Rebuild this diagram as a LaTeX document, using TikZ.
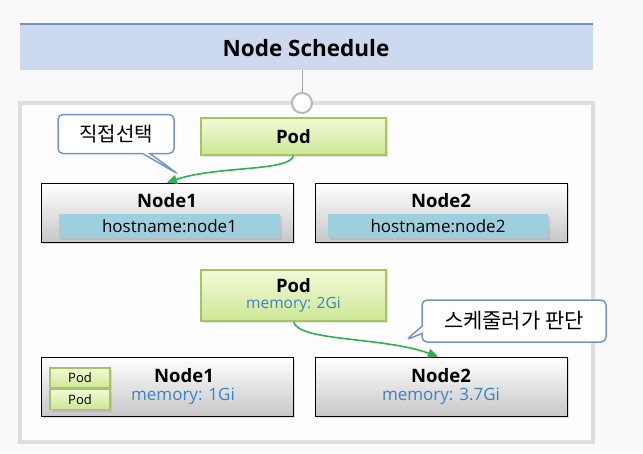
\documentclass[tikz,border=0pt]{standalone}
\usepackage{fontspec}
\setmainfont{Open Sans}
\newfontfamily\kr{Noto Sans CJK KR}
\usepackage{tikz}
\usepackage{xcolor}
\usetikzlibrary{arrows.meta,shapes.callouts,shadows}

\definecolor{pagebg}{HTML}{F9F9F9}
\definecolor{bandblue}{HTML}{CDD9EE}
\definecolor{bandline}{HTML}{7090C8}
\definecolor{framegray}{HTML}{DEDEDE}
\definecolor{podgreen}{HTML}{A5C463}
\definecolor{podtop}{HTML}{F3FAD8}
\definecolor{podbot}{HTML}{CCE795}
\definecolor{hostblue}{HTML}{9DCFDE}
\definecolor{memblue}{HTML}{3B82C8}
\definecolor{flowgreen}{HTML}{2EB34C}
\definecolor{callblue}{HTML}{7396D2}

\tikzset{
  nodebox/.style={draw=black,line width=0.8pt,top color=white,bottom color=black!22,
    minimum width=252pt,minimum height=59pt,
    drop shadow={opacity=0.25,shadow xshift=2pt,shadow yshift=-2pt}},
  podbox/.style={draw=podgreen,line width=1.5pt,top color=podtop,bottom color=podbot,
    minimum width=185pt,drop shadow={opacity=0.2,shadow xshift=2pt,shadow yshift=-2pt}},
  minipod/.style={podbox,minimum width=60pt,minimum height=20pt,inner sep=0pt,font=\fontsize{13}{13}\selectfont},
  hostbar/.style={fill=hostblue,minimum height=24pt,inner sep=0pt,font=\fontsize{17}{17}\selectfont,
    drop shadow={opacity=0.2,shadow xshift=1.5pt,shadow yshift=-1.5pt}},
  title/.style={font=\fontsize{18.5}{18.5}\selectfont\bfseries},
  mem/.style={text=memblue,font=\fontsize{17}{17}\selectfont},
  bubble/.style={rectangle callout,draw=callblue,line width=1.5pt,fill=white,rounded corners=5pt,
    font=\kr\fontsize{20}{20}\selectfont},
  flow/.style={->,draw=flowgreen,line width=1.6pt},
}

\begin{document}
\begin{tikzpicture}[>={Triangle[length=10pt,width=9pt]},x=1pt,y=-1pt]
    \fill[pagebg] (0,0) rectangle (643,453);
    \useasboundingbox (0,0) rectangle (643,453);
    % heading
    \fill[bandblue] (20,24) rectangle (593,70);
    \draw[bandline,line width=2.5pt] (20,24) -- (593,24);
    \node[font=\fontsize{22.5}{22.5}\selectfont\bfseries] (head) at (306,48) {Node Schedule};
    \draw[framegray,line width=4pt,fill=white!60!pagebg] (20,103) rectangle (593,442);
    \coordinate (bandfoot) at (302,70);
    \node[circle,draw=black!28,line width=2pt,fill=white,minimum size=20pt,inner sep=0pt] (hub) at (302,103) {};
    \draw[black!35,line width=1pt] (bandfoot) -- (hub);

    % direct choice
    \node[podbox,minimum height=37pt] (pod1) at (293.5,136.5) {};
    \node[title] at (pod1) {Pod};
    \node[nodebox] (n1) at (167,212.5) {};
    \node[title] (n1name) at (167,201) {Node1};
    \node[hostbar,minimum width=221pt] (n1host) at (169.5,226) {hostname:node1};
    \node[nodebox] (n2) at (441,212.5) {};
    \node[title] (n2name) at (441,201) {Node2};
    \node[hostbar,minimum width=220pt] (n2host) at (438,226) {hostname:node2};
    \draw[flow] (pod1.south) .. controls +(-4,16) and +(50,-17) .. (n1.north);
    \node[bubble,minimum width=116pt,minimum height=39pt,callout absolute pointer={(178,174)}] (tip1) at (116,134) {직접선택};

    % scheduler choice
    \node[podbox,minimum height=51pt] (pod2) at (293.5,295.5) {};
    \node[title] (pod2name) at (293.5,286) {Pod};
    \node[mem,font=\fontsize{15.5}{15.5}\selectfont] (pod2mem) at (293.5,305) {memory: 2Gi};
    \node[nodebox] (n3) at (167,386.5) {};
    \node[minipod] (p1) at (80,378) {Pod};
    \node[minipod] (p2) at (80,399.5) {Pod};
    \node[title] (n3name) at (184,376) {Node1};
    \node[mem] (n3mem) at (183,396) {memory: 1Gi};
    \node[nodebox] (n4) at (441,386.5) {};
    \node[title] (n4name) at (441,376) {Node2};
    \node[mem] (n4mem) at (441,396) {memory: 3.7Gi};
    \draw[flow] (pod2.south) .. controls +(5,20) and +(-55,-20) .. ([xshift=-3pt]n4.north);
    \node[bubble,minimum width=184pt,minimum height=42pt,callout absolute pointer={(406,340)},
      font=\kr\fontsize{21}{21}\selectfont] (tip2) at (514,321) {스케줄러가 판단};
\end{tikzpicture}
\end{document}
